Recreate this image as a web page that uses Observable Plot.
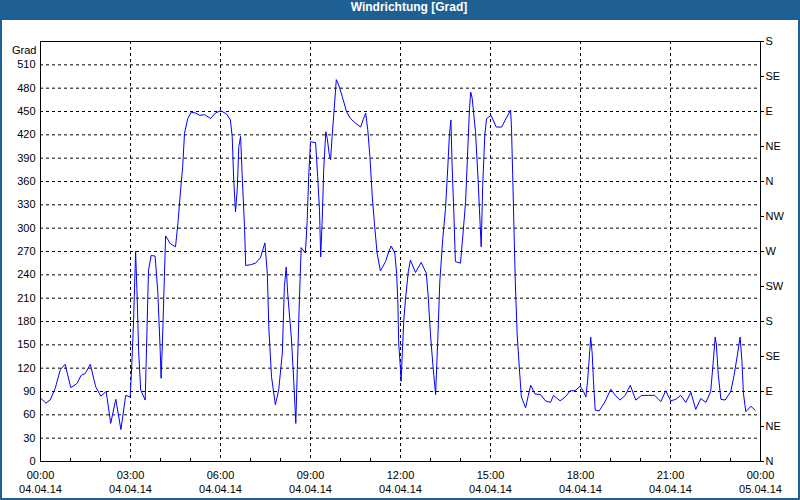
<!DOCTYPE html>
<html>
<head>
<meta charset="utf-8">
<script src="https://cdn.jsdelivr.net/npm/d3@7"></script>
<script src="https://cdn.jsdelivr.net/npm/@observablehq/plot@0.6"></script>
<style>
  html, body { margin: 0; padding: 0; background: #ffffff; }
  #wrap { width: 800px; height: 500px; box-sizing: border-box; border: 2px solid #1e6094; border-top: 0; background: #ffffff; overflow: hidden; }
  #title { height: 20px; line-height: 20px; background: #1e6094; color: #ffffff; font: bold 12px "Liberation Sans", Arial, sans-serif; text-align: center; padding-left: 18px; box-sizing: border-box; }
  #chart svg { display: block; }
</style>
</head>
<body>
<div id="wrap">
  <div id="title">Windrichtung [Grad]</div>
  <div id="chart"></div>
</div>
<script>
// Time of day in hours (04.04.14) and wind direction in degrees
const hours = [
  0.02, 0.18, 0.32, 0.49, 0.66, 0.82, 1.01, 1.21, 1.36, 1.49, 1.66, 1.84, 2.01, 2.19, 2.34, 2.51, 2.68, 2.84, 2.99,
  3.04, 3.10, 3.17, 3.22, 3.27, 3.34, 3.49, 3.60, 3.69, 3.82, 3.91, 3.99, 4.02, 4.07, 4.13, 4.17, 4.33, 4.50, 4.58,
  4.67, 4.74, 4.80, 4.91, 5.02, 5.17, 5.31, 5.47, 5.67, 5.83, 6.00, 6.20, 6.33, 6.39, 6.44, 6.50, 6.56, 6.61, 6.67,
  6.72, 6.80, 6.84, 7.00, 7.17, 7.33, 7.48, 7.56, 7.61, 7.70, 7.83, 7.94, 8.06, 8.13, 8.19, 8.24, 8.36, 8.44, 8.51,
  8.56, 8.63, 8.69, 8.83, 8.89, 8.94, 9.00, 9.17, 9.24, 9.30, 9.34, 9.39, 9.44, 9.51, 9.56, 9.62, 9.67, 9.72, 9.78,
  9.86, 9.94, 10.06, 10.20, 10.33, 10.50, 10.67, 10.76, 10.84, 10.91, 10.98, 11.06, 11.14, 11.22, 11.33, 11.50,
  11.61, 11.69, 11.81, 11.87, 11.91, 11.94, 12.00, 12.02, 12.06, 12.11, 12.17, 12.26, 12.33, 12.50, 12.69, 12.86,
  12.92, 13.00, 13.08, 13.17, 13.24, 13.31, 13.41, 13.50, 13.58, 13.63, 13.68, 13.72, 13.78, 13.83, 14.00, 14.08,
  14.17, 14.23, 14.30, 14.34, 14.39, 14.50, 14.59, 14.63, 14.69, 14.74, 14.81, 14.87, 15.02, 15.19, 15.37, 15.67,
  15.70, 15.74, 15.78, 15.83, 15.89, 15.97, 16.03, 16.17, 16.26, 16.34, 16.48, 16.67, 16.83, 17.00, 17.10, 17.32,
  17.49, 17.66, 17.82, 17.99, 18.10, 18.18, 18.24, 18.31, 18.34, 18.39, 18.43, 18.49, 18.62, 18.82, 19.01, 19.16,
  19.32, 19.49, 19.66, 19.84, 20.04, 20.27, 20.47, 20.58, 20.68, 20.84, 21.01, 21.18, 21.34, 21.51, 21.68, 21.84,
  22.01, 22.18, 22.34, 22.42, 22.49, 22.53, 22.59, 22.68, 22.82, 23.01, 23.12, 23.23, 23.32, 23.38, 23.43, 23.51,
  23.68, 23.82
];
const degrees = [
  81, 75, 79, 94, 118, 125, 95, 100, 111, 113, 125, 96, 84, 90, 49, 80, 41, 85, 83,
  122, 178, 270, 214, 143, 92, 79, 246, 265, 264, 218, 143, 107, 160, 238, 290, 280, 276, 306,
  349, 379, 422, 441, 449, 448, 445, 446, 441, 448, 451, 447, 439, 418, 362, 321, 351, 405, 418,
  370, 302, 252, 253, 255, 262, 281, 242, 173, 109, 73, 92, 139, 225, 250, 216, 160, 105, 49,
  118, 208, 275, 268, 310, 366, 411, 410, 366, 323, 263, 310, 375, 424, 415, 396, 388, 418, 448,
  491, 484, 469, 450, 441, 435, 430, 440, 448, 426, 392, 340, 302, 268, 245, 257,
  270, 277, 268, 242, 208, 152, 118, 103, 139, 182, 210, 244, 259, 243, 256, 242,
  214, 163, 124, 86, 154, 231, 287, 325, 381, 420, 439, 381, 317, 257, 255, 291,
  334, 390, 454, 475, 467, 424, 360, 325, 276, 355, 420, 441, 445, 430, 430, 452,
  428, 368, 304, 227, 163, 115, 83, 69, 85, 98, 87, 86, 78, 76, 85, 78,
  83, 91, 91, 97, 90, 83, 105, 143, 160, 139, 105, 66, 65, 77, 93, 85,
  79, 85, 98, 79, 85, 85, 85, 81, 77, 91, 78, 80, 85, 76, 89, 67,
  81, 76, 90, 126, 160, 150, 113, 80, 79, 90, 111, 137, 160, 130, 88, 64,
  71, 66
];

// Axis ticks and labels
const majorTicks = [0, 3, 6, 9, 12, 15, 18, 21, 24];
const timeLabels = ["00:00", "03:00", "06:00", "09:00", "12:00", "15:00", "18:00", "21:00", "00:00"];
const dateLabels = ["04.04.14", "04.04.14", "04.04.14", "04.04.14", "04.04.14", "04.04.14", "04.04.14", "04.04.14", "05.04.14"];
const hourTicks = [1, 2, 4, 5, 7, 8, 10, 11, 13, 14, 16, 17, 19, 20, 22, 23];
const gridXTicks = [3, 6, 9, 12, 15, 18, 21];
const leftTicks = [0, 30, 60, 90, 120, 150, 180, 210, 240, 270, 300, 330, 360, 390, 420, 450, 480, 510];
const gridYTicks = [30, 60, 90, 120, 150, 180, 210, 240, 270, 300, 330, 360, 390, 420, 450, 480, 510];
const compassTicks = [0, 45, 90, 135, 180, 225, 270, 315, 360, 405, 450, 495, 540];
const compassLabels = ["N", "NE", "E", "SE", "S", "SW", "W", "NW", "N", "NE", "E", "SE", "S"];
const yUnit = "Grad";

const data = hours.map((t, i) => ({t, v: degrees[i]}));

const chart = Plot.plot({
  width: 796,
  height: 478,
  marginLeft: 38,
  marginRight: 38,
  marginTop: 21,
  marginBottom: 37,
  style: {fontFamily: "'Liberation Sans', Arial, sans-serif", fontSize: "11px", background: "#ffffff", color: "#000000"},
  x: {type: "linear", domain: [0, 24], label: null},
  y: {domain: [0, 540], label: null},
  marks: [
    Plot.gridY(gridYTicks, {stroke: "#000000", strokeOpacity: 1, strokeDasharray: "3,3"}),
    Plot.gridX(gridXTicks, {stroke: "#000000", strokeOpacity: 1, strokeDasharray: "3,3"}),
    Plot.frame({stroke: "#000000"}),
    Plot.line(data, {x: "t", y: "v", stroke: "#0000ff", strokeWidth: 1}),
    Plot.axisY(leftTicks, {anchor: "left", tickSize: 0, tickPadding: 5, label: null}),
    Plot.axisY(compassTicks, {anchor: "right", tickSize: 3, tickPadding: 2, label: null,
      tickFormat: d => compassLabels[compassTicks.indexOf(d)]}),
    Plot.axisX(majorTicks, {anchor: "bottom", tickSize: 0, tickPadding: 10, label: null,
      tickFormat: d => timeLabels[majorTicks.indexOf(d)]}),
    Plot.axisX(majorTicks, {anchor: "bottom", tickSize: 0, tickPadding: 24, label: null,
      tickFormat: d => dateLabels[majorTicks.indexOf(d)]}),
    Plot.axisX(hourTicks, {anchor: "bottom", tickSize: -3, tickPadding: 0, label: null, tickFormat: () => ""}),
    Plot.text([yUnit], {text: d => d, frameAnchor: "top-left", textAnchor: "end", dx: -4, dy: 5, fill: "#000000"})
  ]
});
document.getElementById("chart").appendChild(chart);
</script>
</body>
</html>
